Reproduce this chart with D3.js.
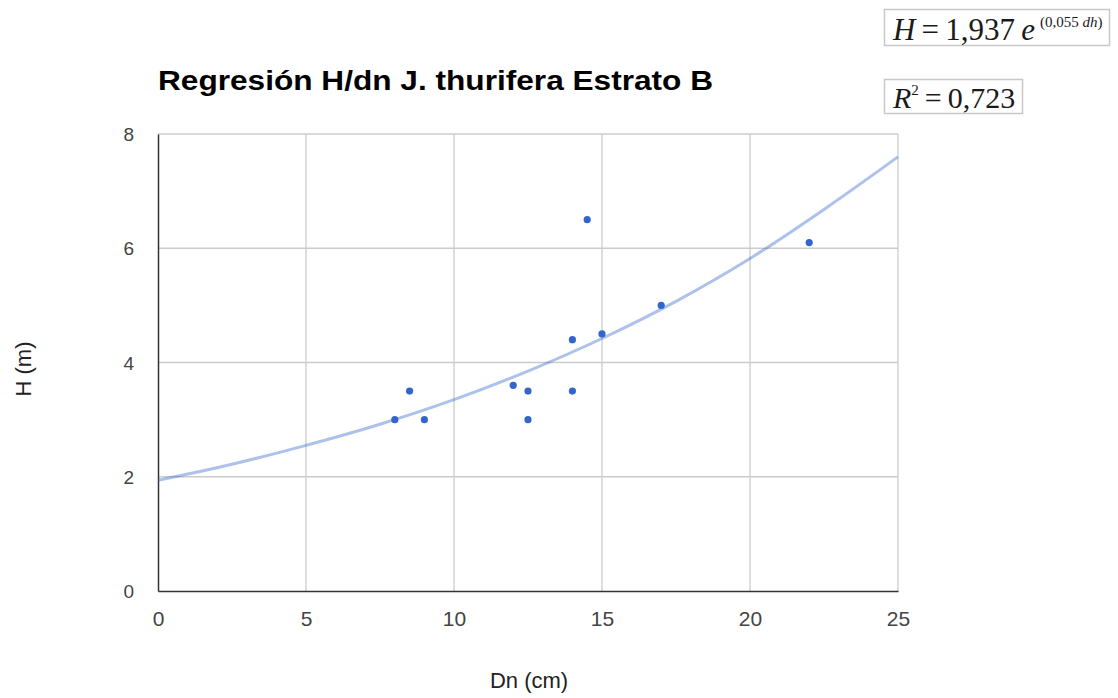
<!DOCTYPE html>
<html><head><meta charset="utf-8">
<script src="https://cdn.jsdelivr.net/npm/d3@7"></script>
<style>body{margin:0;background:#fff}svg{display:block}</style>
</head><body>
<svg id="c" width="1118" height="698"></svg>
<script>
const dn = [8, 8.5, 9, 12, 12.5, 12.5, 14, 14, 14.5, 15, 17, 22];
const h  = [3, 3.5, 3, 3.6, 3.5, 3, 4.4, 3.5, 6.5, 4.5, 5, 6.1];
// trendline values
const trendX = [0, 2.5, 5, 7.5, 10, 12.5, 15, 17.5, 20, 22.5, 25];
const trendY = [1.94, 2.22, 2.55, 2.92, 3.35, 3.85, 4.42, 5.07, 5.82, 6.68, 7.6];
const xTicks = [0, 5, 10, 15, 20, 25];
const yTicks = [0, 2, 4, 6, 8];
const title = "Regresión H/dn J. thurifera Estrato B";

const svg = d3.select("#c");
const L = 158, R = 898, T = 134, B = 591;
const x = d3.scaleLinear().domain([0, 25]).range([L, R]);
const y = d3.scaleLinear().domain([0, 8]).range([B, T]);
const sans = "Liberation Sans, Arial, sans-serif";

// grid
svg.append("g").selectAll("line").data(xTicks.filter(d => d > 0)).join("line")
  .attr("x1", d => x(d)).attr("x2", d => x(d)).attr("y1", T).attr("y2", B)
  .attr("stroke", "#cccccc").attr("stroke-width", 1.3);
svg.append("g").selectAll("line").data(yTicks.filter(d => d > 0)).join("line")
  .attr("x1", L).attr("x2", R).attr("y1", d => y(d)).attr("y2", d => y(d))
  .attr("stroke", "#cccccc").attr("stroke-width", 1.3);

// axes
const xa = svg.append("g").attr("transform", `translate(0,${B})`)
  .call(d3.axisBottom(x).tickValues(xTicks).tickSize(0).tickPadding(20));
const ya = svg.append("g").attr("transform", `translate(${L},0)`)
  .call(d3.axisLeft(y).tickValues(yTicks).tickSize(0).tickPadding(24));
[xa, ya].forEach(a => {
  a.select(".domain").attr("stroke", "#333").attr("stroke-width", 1.5);
  a.selectAll("text").attr("font-family", sans).attr("fill", "#444");
});
xa.selectAll("text").attr("font-size", 21);
ya.selectAll("text").attr("font-size", 19).attr("dy", "0.35em");

// trendline
const pts = trendX.map((v, i) => [v, trendY[i]]);
svg.append("path").datum(pts)
  .attr("d", d3.line().x(d => x(d[0])).y(d => y(d[1])).curve(d3.curveMonotoneX))
  .attr("fill", "none").attr("stroke", "#3366cc").attr("stroke-opacity", 0.4)
  .attr("stroke-width", 3);

// points
svg.append("g").selectAll("circle").data(dn.map((v, i) => [v, h[i]])).join("circle")
  .attr("cx", d => x(d[0])).attr("cy", d => y(d[1])).attr("r", 3.6)
  .attr("fill", "#3366cc");

// title
svg.append("text").attr("x", L).attr("y", 90).text(title)
  .attr("font-family", sans).attr("font-weight", "bold")
  .attr("font-size", 28).attr("fill", "#000")
  .attr("textLength", 555).attr("lengthAdjust", "spacingAndGlyphs");

// axis titles
svg.append("text").attr("x", 529).attr("y", 688).attr("text-anchor", "middle")
  .attr("font-family", sans).attr("font-size", 22)
  .attr("fill", "#222").text("Dn (cm)");
svg.append("text").attr("transform", "translate(31,369) rotate(-90)").attr("text-anchor", "middle")
  .attr("font-family", sans).attr("font-size", 22)
  .attr("fill", "#222").text("H (m)");

// equation boxes
const serif = "Liberation Serif, Times New Roman, serif";
svg.append("rect").attr("x", 884.5).attr("y", 9.5).attr("width", 225).attr("height", 36)
  .attr("fill", "#fff").attr("stroke", "#c8c8c8").attr("stroke-width", 1.5);
const t1 = svg.append("text").attr("x", 893).attr("y", 40).attr("font-family", serif)
  .attr("font-size", 31).attr("fill", "#1a1a1a");
t1.append("tspan").attr("font-style", "italic").text("H");
t1.append("tspan").text("\u2009=\u20091,937\u2009");
t1.append("tspan").attr("font-style", "italic").text("e");
const t1s = svg.append("text").attr("x", 1040).attr("y", 27).attr("font-family", serif)
  .attr("font-size", 15).attr("fill", "#1a1a1a");
t1s.append("tspan").text("(0,055 ");
t1s.append("tspan").attr("font-style", "italic").text("dh");
t1s.append("tspan").text(")");

svg.append("rect").attr("x", 884.5).attr("y", 79.5).attr("width", 138).attr("height", 34)
  .attr("fill", "#fff").attr("stroke", "#c8c8c8").attr("stroke-width", 1.5);
const t2 = svg.append("text").attr("x", 893).attr("y", 108).attr("font-family", serif)
  .attr("font-size", 30).attr("fill", "#1a1a1a");
t2.append("tspan").attr("font-style", "italic").text("R");
t2.append("tspan").attr("font-size", 15).attr("dy", -13).text("2");
t2.append("tspan").attr("dy", 13).text("\u2009=\u20090,723");
</script>
</body></html>
